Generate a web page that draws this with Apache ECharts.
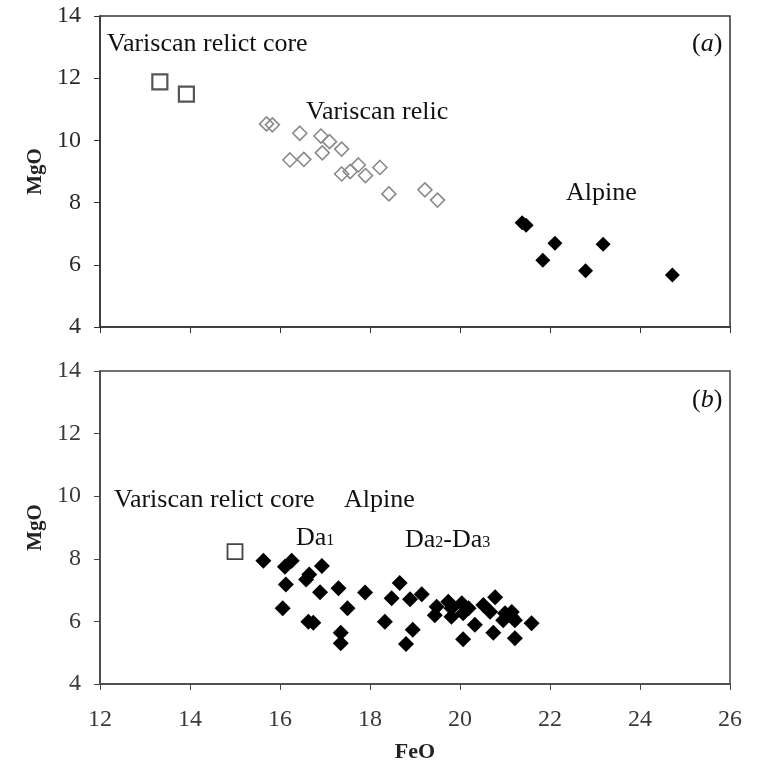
<!DOCTYPE html>
<html>
<head>
<meta charset="utf-8">
<script src="https://cdn.jsdelivr.net/npm/echarts@6/dist/echarts.min.js"></script>
<style>
  html,body{margin:0;padding:0;background:#fff;}
  #chart{width:764px;height:770px;}
</style>
</head>
<body>
<div id="chart"></div>
<script>
  // panel (a)
  const relictCoreA = [[13.33, 11.88], [13.92, 11.49]];
  const relicA = [
    [15.70, 10.53], [15.83, 10.50], [16.44, 10.23], [16.22, 9.37], [16.53, 9.39],
    [16.91, 10.14], [17.10, 9.96], [16.94, 9.60], [17.37, 9.72], [17.37, 8.92],
    [17.56, 9.00], [17.74, 9.21], [17.90, 8.87], [18.22, 9.13], [18.42, 8.28],
    [19.22, 8.41], [19.50, 8.08]
  ];
  const alpineA = [
    [21.38, 7.35], [21.47, 7.27], [22.11, 6.69], [21.84, 6.15],
    [23.18, 6.66], [22.79, 5.81], [24.72, 5.67]
  ];
  // panel (b)
  const relictCoreB = [[15.0, 8.23]];
  const alpineB = [
    [15.63, 7.94], [16.11, 7.75], [16.26, 7.94], [16.93, 7.77], [16.13, 7.18],
    [16.58, 7.34], [16.65, 7.50], [16.89, 6.93], [17.30, 7.06], [17.89, 6.92],
    [17.50, 6.42], [16.06, 6.42], [16.63, 5.99], [16.74, 5.96], [17.35, 5.64],
    [17.35, 5.30], [18.33, 5.99], [18.48, 6.74], [18.66, 7.23], [18.89, 6.71],
    [19.15, 6.87], [18.95, 5.73], [18.80, 5.28], [19.48, 6.47], [19.44, 6.20],
    [19.74, 6.63], [19.81, 6.42], [19.81, 6.15], [20.04, 6.58], [20.19, 6.42],
    [20.07, 6.26], [20.33, 5.89], [20.07, 5.43], [20.52, 6.52], [20.67, 6.31],
    [20.78, 6.77], [20.74, 5.64], [21.00, 6.26], [21.15, 6.30], [21.15, 6.15],
    [21.22, 6.04], [20.96, 6.04], [21.22, 5.46], [21.59, 5.94]
  ];

  const serif = '"Liberation Serif", "DejaVu Serif", serif';
  const chart = echarts.init(document.getElementById('chart'));

  function xAx(idx, showLabel, color){
    return {
      gridIndex: idx, type: 'value', min: 12, max: 26, interval: 2,
      name: showLabel ? 'FeO' : '', nameLocation: 'middle', nameGap: 57,
      nameTextStyle: {fontFamily: serif, fontWeight: 'bold', fontSize: 22, color: '#222'},
      axisLine: {onZero: false, lineStyle: {color: color, width: 1.5}},
      axisTick: {show: true, length: 6, lineStyle: {color: color}},
      axisLabel: {show: showLabel, margin: 24, fontFamily: serif, fontSize: 24, color: '#3a3a3a'},
      splitLine: {show: false}
    };
  }
  function yAx(idx, color, labColor){
    return {
      gridIndex: idx, type: 'value', min: 4, max: 14, interval: 2,
      name: 'MgO', nameLocation: 'middle', nameGap: 48, nameRotate: 90,
      nameTextStyle: {fontFamily: serif, fontWeight: 'bold', fontSize: 21, color: '#222'},
      axisLine: {onZero: false, lineStyle: {color: color, width: 1.5}},
      axisTick: {show: true, length: 6, lineStyle: {color: color}},
      axisLabel: {margin: 19, fontFamily: serif, fontSize: 24, color: labColor},
      splitLine: {show: false}
    };
  }

  const big = '26px ' + serif;
  const txt = (x, y, text, extra) => ({
    type: 'text', x: x, y: y, z: 100,
    style: Object.assign({text: text, font: big, fill: '#111', verticalAlign: 'middle'}, extra || {})
  });
  const subRich = {
    n: {font: big, lineHeight: 28},
    s: {font: '16px ' + serif, lineHeight: 28, verticalAlign: 'bottom', padding: [0, 0, 3, 0]}
  };
  const parRich = {p: {font: big}, i: {font: 'italic ' + big}};

  const option = {
    backgroundColor: '#fff',
    animation: false,
    grid: [
      {left: 100, top: 16, width: 630, height: 311, outerBoundsMode: 'none', show: true, borderColor: '#333', borderWidth: 1.5, backgroundColor: 'transparent'},
      {left: 100, top: 371, width: 630, height: 313, outerBoundsMode: 'none', show: true, borderColor: '#444', borderWidth: 1.5, backgroundColor: 'transparent'}
    ],
    xAxis: [xAx(0, false, '#333'), xAx(1, true, '#444')],
    yAxis: [yAx(0, '#333', '#2a2a2a'), yAx(1, '#444', '#3a3a3a')],
    series: [
      {
        type: 'scatter', xAxisIndex: 0, yAxisIndex: 0, data: relictCoreA,
        symbol: 'rect', symbolSize: 15,
        itemStyle: {color: '#fff', borderColor: '#555', borderWidth: 2.2, opacity: 1}
      },
      {
        type: 'scatter', xAxisIndex: 0, yAxisIndex: 0, data: relicA,
        symbol: 'diamond', symbolSize: 14,
        itemStyle: {color: 'rgba(255,255,255,0)', borderColor: '#8a8a8a', borderWidth: 1.6, opacity: 1}
      },
      {
        type: 'scatter', xAxisIndex: 0, yAxisIndex: 0, data: alpineA,
        symbol: 'diamond', symbolSize: 15,
        itemStyle: {color: '#000', opacity: 1}
      },
      {
        type: 'scatter', xAxisIndex: 1, yAxisIndex: 1, data: relictCoreB,
        symbol: 'rect', symbolSize: 15,
        itemStyle: {color: '#fff', borderColor: '#444', borderWidth: 1.8, opacity: 1}
      },
      {
        type: 'scatter', xAxisIndex: 1, yAxisIndex: 1, data: alpineB,
        symbol: 'diamond', symbolSize: 16,
        itemStyle: {color: '#000', opacity: 1}
      }
    ],
    graphic: [
      txt(107, 44, 'Variscan relict core'),
      txt(306, 112, 'Variscan relic'),
      txt(566, 193, 'Alpine'),
      txt(692, 44, '{p|(}{i|a}{p|)}', {rich: parRich}),
      txt(114, 500, 'Variscan relict core'),
      txt(344, 500, 'Alpine'),
      txt(296, 538, '{n|Da}{s|1}', {rich: subRich}),
      txt(405, 540, '{n|Da}{s|2}{n|-Da}{s|3}', {rich: subRich}),
      txt(692, 400, '{p|(}{i|b}{p|)}', {rich: parRich})
    ]
  };
  chart.setOption(option);
</script>
</body>
</html>
